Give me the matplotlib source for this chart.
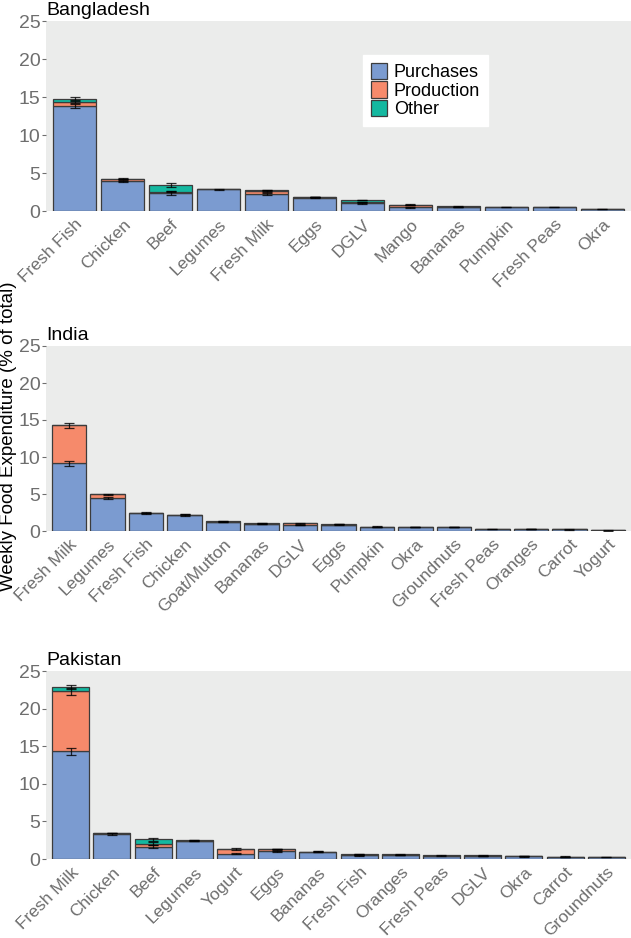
import numpy as np
from matplotlib import pyplot as plt

plt.rcParams['font.family'] = ['Liberation Sans', 'DejaVu Sans']

# Bangladesh
bd_cats = ['Fresh Fish', 'Chicken', 'Beef', 'Legumes', 'Fresh Milk', 'Eggs', 'DGLV',
           'Mango', 'Bananas', 'Pumpkin', 'Fresh Peas', 'Okra']
bd_purch = [13.8, 3.9, 2.4, 2.85, 2.25, 1.75, 1.0, 0.5, 0.55, 0.5, 0.5, 0.28]
bd_prod = [0.55, 0.25, 0.15, 0.03, 0.4, 0.1, 0.2, 0.3, 0.0, 0.0, 0.0, 0.0]
bd_other = [0.45, 0.08, 0.9, 0.02, 0.05, 0.03, 0.25, 0.05, 0.05, 0.0, 0.0, 0.0]
bd_err_purch = [0.3, 0.1, 0.25, 0.05, 0.15, 0.05, 0.1, 0.05, 0.03, 0.03, 0.03, 0.02]
bd_err_prod = [0.15, 0.05, 0.1, 0.0, 0.1, 0.03, 0.05, 0.05, 0.0, 0.0, 0.0, 0.0]
bd_err_other = [0.15, 0.05, 0.25, 0.0, 0.03, 0.02, 0.05, 0.02, 0.02, 0.0, 0.0, 0.0]

# India
in_cats = ['Fresh Milk', 'Legumes', 'Fresh Fish', 'Chicken', 'Goat/Mutton', 'Bananas', 'DGLV',
           'Eggs', 'Pumpkin', 'Okra', 'Groundnuts', 'Fresh Peas', 'Oranges', 'Carrot', 'Yogurt']
in_purch = [9.15, 4.5, 2.4, 2.15, 1.25, 1.0, 0.8, 0.85, 0.55, 0.55, 0.55, 0.3, 0.28, 0.22, 0.08]
in_prod = [5.15, 0.45, 0.0, 0.0, 0.0, 0.0, 0.25, 0.0, 0.0, 0.0, 0.0, 0.0, 0.0, 0.0, 0.02]
in_other = [0.0, 0.0, 0.1, 0.05, 0.05, 0.03, 0.0, 0.05, 0.05, 0.03, 0.03, 0.01, 0.03, 0.01, 0.0]
in_err_purch = [0.3, 0.15, 0.1, 0.15, 0.1, 0.05, 0.05, 0.03, 0.03, 0.03, 0.03, 0.02, 0.02, 0.02, 0.02]
in_err_prod = [0.35, 0.1, 0.0, 0.0, 0.0, 0.0, 0.05, 0.0, 0.0, 0.0, 0.0, 0.0, 0.0, 0.0, 0.0]
in_err_other = [0.0, 0.0, 0.05, 0.05, 0.05, 0.02, 0.0, 0.02, 0.02, 0.02, 0.02, 0.0, 0.02, 0.0, 0.0]

# Pakistan
pk_cats = ['Fresh Milk', 'Chicken', 'Beef', 'Legumes', 'Yogurt', 'Eggs', 'Bananas', 'Fresh Fish',
           'Oranges', 'Fresh Peas', 'DGLV', 'Okra', 'Carrot', 'Groundnuts']
pk_purch = [14.3, 3.35, 1.65, 2.45, 0.7, 1.0, 0.95, 0.5, 0.55, 0.45, 0.4, 0.35, 0.28, 0.28]
pk_prod = [8.0, 0.05, 0.4, 0.0, 0.65, 0.3, 0.0, 0.05, 0.0, 0.0, 0.0, 0.0, 0.0, 0.0]
pk_other = [0.55, 0.05, 0.6, 0.03, 0.0, 0.03, 0.03, 0.05, 0.05, 0.03, 0.08, 0.03, 0.03, 0.03]
pk_err_purch = [0.5, 0.1, 0.2, 0.03, 0.1, 0.05, 0.05, 0.05, 0.03, 0.03, 0.03, 0.03, 0.03, 0.02]
pk_err_prod = [0.45, 0.0, 0.2, 0.0, 0.1, 0.05, 0.0, 0.05, 0.0, 0.0, 0.0, 0.0, 0.0, 0.0]
pk_err_other = [0.25, 0.03, 0.2, 0.02, 0.0, 0.05, 0.02, 0.05, 0.02, 0.0, 0.02, 0.03, 0.03, 0.0]

col_purch = '#7B9BD0'
col_prod = '#F68A6B'
col_other = '#14B8A0'
bg = '#EBECEB'
tick_col = '#6E6E6E'


def draw_panel(ax, title, cats, purch, prod, other, e_purch, e_prod, e_other, legend=False):
    x = np.arange(len(cats))
    purch = np.array(purch)
    prod = np.array(prod)
    other = np.array(other)
    kw = dict(width=0.9, edgecolor='#3c3c3c', linewidth=0.9)
    ax.bar(x, purch, color=col_purch, label='Purchases', **kw)
    ax.bar(x, prod, bottom=purch, color=col_prod, label='Production', **kw)
    ax.bar(x, other, bottom=purch + prod, color=col_other, label='Other', **kw)

    tops = [purch, purch + prod, purch + prod + other]
    for top, err in zip(tops, [e_purch, e_prod, e_other]):
        err = np.array(err)
        m = err > 0
        ax.errorbar(x[m], top[m], yerr=err[m], fmt='none', ecolor='black',
                    elinewidth=0.9, capsize=3.5, capthick=0.9, alpha=0.8)

    ax.set_facecolor(bg)
    ax.set_xlim(-0.6, len(cats) - 0.4)
    ax.set_ylim(0, 25)
    ax.set_yticks([0, 5, 10, 15, 20, 25])
    ax.set_xticks(x)
    ax.set_xticklabels(cats, rotation=45, ha='right', rotation_mode='anchor')
    ax.tick_params(axis='y', colors=tick_col, labelsize=14, length=3, width=0.8, pad=1)
    ax.tick_params(axis='x', colors=tick_col, labelsize=12.5, length=0, pad=4)
    for s in ax.spines.values():
        s.set_visible(False)
    ax.text(0.0, 1.012, title, transform=ax.transAxes, fontsize=14, ha='left', va='bottom')

    if legend:
        ax.legend(loc='upper left', bbox_to_anchor=(0.542, 0.821), borderaxespad=0,
                  fontsize=13, frameon=True, fancybox=False, edgecolor='white',
                  framealpha=1, handlelength=0.85, handleheight=1.0, labelspacing=0.0,
                  handletextpad=0.4, borderpad=0.45)


fig = plt.figure(figsize=(6.31, 9.38), dpi=100)
H = 938.0
W = 631.0
left = 46 / W

ax1 = fig.add_axes([left, 1 - 211 / H, 1 - left, 190 / H])
draw_panel(ax1, 'Bangladesh', bd_cats, bd_purch, bd_prod, bd_other,
           bd_err_purch, bd_err_prod, bd_err_other, legend=True)

ax2 = fig.add_axes([left, 1 - 531 / H, 1 - left, 185 / H])
draw_panel(ax2, 'India', in_cats, in_purch, in_prod, in_other,
           in_err_purch, in_err_prod, in_err_other)

ax3 = fig.add_axes([left, 1 - 859 / H, 1 - left, 188 / H])
draw_panel(ax3, 'Pakistan', pk_cats, pk_purch, pk_prod, pk_other,
           pk_err_purch, pk_err_prod, pk_err_other)

fig.text(0.014, 1 - 436 / H, 'Weekly Food Expenditure (% of total)', rotation=90,
         ha='center', va='center', fontsize=13.5)

fig.savefig('out.png', dpi=100)
